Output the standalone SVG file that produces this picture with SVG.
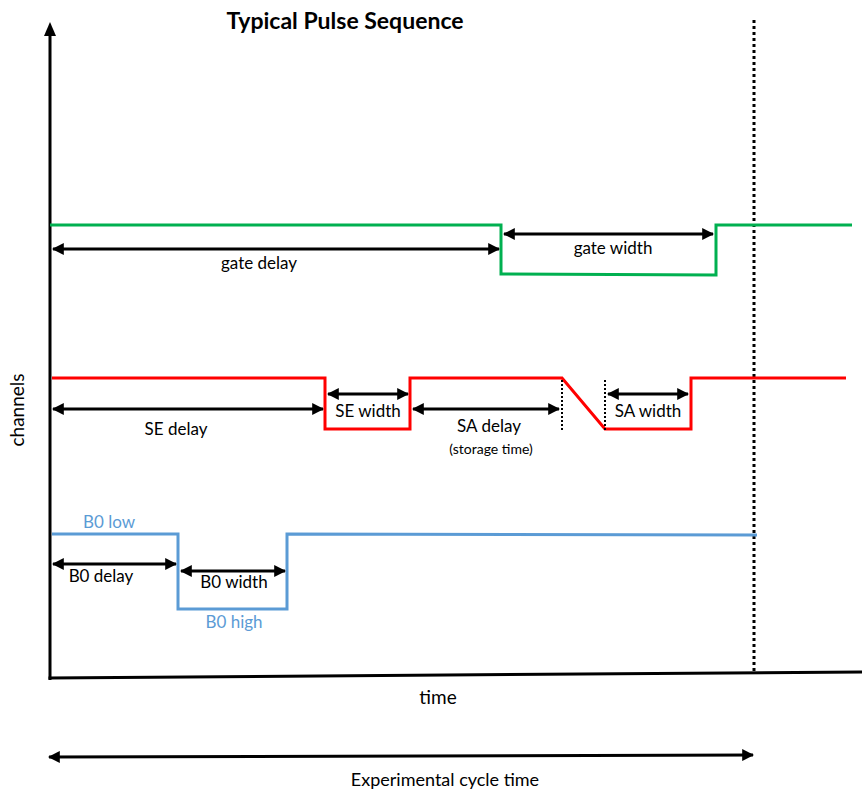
<svg xmlns="http://www.w3.org/2000/svg" width="862" height="792" viewBox="0 0 862 792">
<style>
text{font-family:Lato,"Open Sans","Liberation Sans",sans-serif;font-size:17px;fill:#000;text-anchor:middle}
.blue-t{fill:#5B9BD5}
.sig{fill:none;stroke-width:3;stroke-linejoin:miter}
.arr{stroke:#000;stroke-width:3;fill:none;marker-start:url(#ah);marker-end:url(#ah)}
.dot{stroke:#000;stroke-width:3;stroke-dasharray:3 3;fill:none}
.dots{stroke:#000;stroke-width:2;stroke-dasharray:2 2;fill:none}
</style>
<defs>
<marker id="ah" viewBox="0 0 10 10" refX="9" refY="5" markerWidth="4" markerHeight="4" orient="auto-start-reverse" markerUnits="strokeWidth">
<path d="M0,0 L10,5 L0,10 z" fill="#000"/>
</marker>
</defs>
<rect width="862" height="792" fill="#fff"/>
<text x="345" y="29" style="font-weight:bold;font-size:23px">Typical Pulse Sequence</text>
<g id="axes">
<line x1="50" y1="680" x2="50" y2="34" stroke="#000" stroke-width="3"/>
<path d="M44,36 L50,22 L56,36 z" fill="#000"/>
<line x1="48.500" y1="678" x2="862" y2="672" stroke="#000" stroke-width="3"/>
<text x="24" y="410" transform="rotate(-90 24 410)" style="font-size:19px">channels</text>
<text x="438" y="704" style="font-size:19px">time</text>
</g>
<g id="cycle-line"><line class="dot" x1="754" y1="20" x2="754" y2="673"/></g>
<g id="gate">
<path class="sig" stroke="#00B050" d="M50,225 H501 V274 L716,275 V225 H852"/>
<text x="259" y="269">gate delay</text>
<text x="613" y="254">gate width</text>
</g>
<g id="se-sa">
<path class="sig" stroke="#FF0000" d="M52,378 H325 V429 H410 V378 H562 L605,429 H691 V378 H846"/>
<text x="176" y="435">SE delay</text>
<text x="368" y="417">SE width</text>
<text x="489" y="432">SA delay</text>
<text x="491" y="454" style="font-size:14px">(storage time)</text>
<text x="648" y="417">SA width</text>
<line class="dots" x1="562" y1="380" x2="562" y2="432"/>
<line class="dots" x1="605" y1="380" x2="605" y2="430"/>
</g>
<g id="b0">
<path class="sig" stroke="#5B9BD5" d="M52,534 H178 V609 H287 V534 L757,535"/>
<text class="blue-t" x="109" y="528">B0 low</text>
<text class="blue-t" x="234" y="628">B0 high</text>
<text x="101" y="582">B0 delay</text>
<text x="234" y="588">B0 width</text>
</g>
<g id="cycle">
<text x="445" y="786" style="font-size:18px">Experimental cycle time</text>
</g>
<g id="connectors">
<line class="arr" x1="53" y1="249" x2="499" y2="249"/>
<line class="arr" x1="504" y1="234" x2="713" y2="234"/>
<line class="arr" x1="53" y1="409" x2="323" y2="409"/>
<line class="arr" x1="328" y1="394" x2="408" y2="394"/>
<line class="arr" x1="413" y1="409" x2="559" y2="409"/>
<line class="arr" x1="608" y1="394" x2="688" y2="394"/>
<line class="arr" x1="53" y1="564" x2="176" y2="564"/>
<line class="arr" x1="181" y1="571" x2="285" y2="571"/>
<line class="arr" x1="49" y1="757" x2="753" y2="755"/>
</g>
</svg>
